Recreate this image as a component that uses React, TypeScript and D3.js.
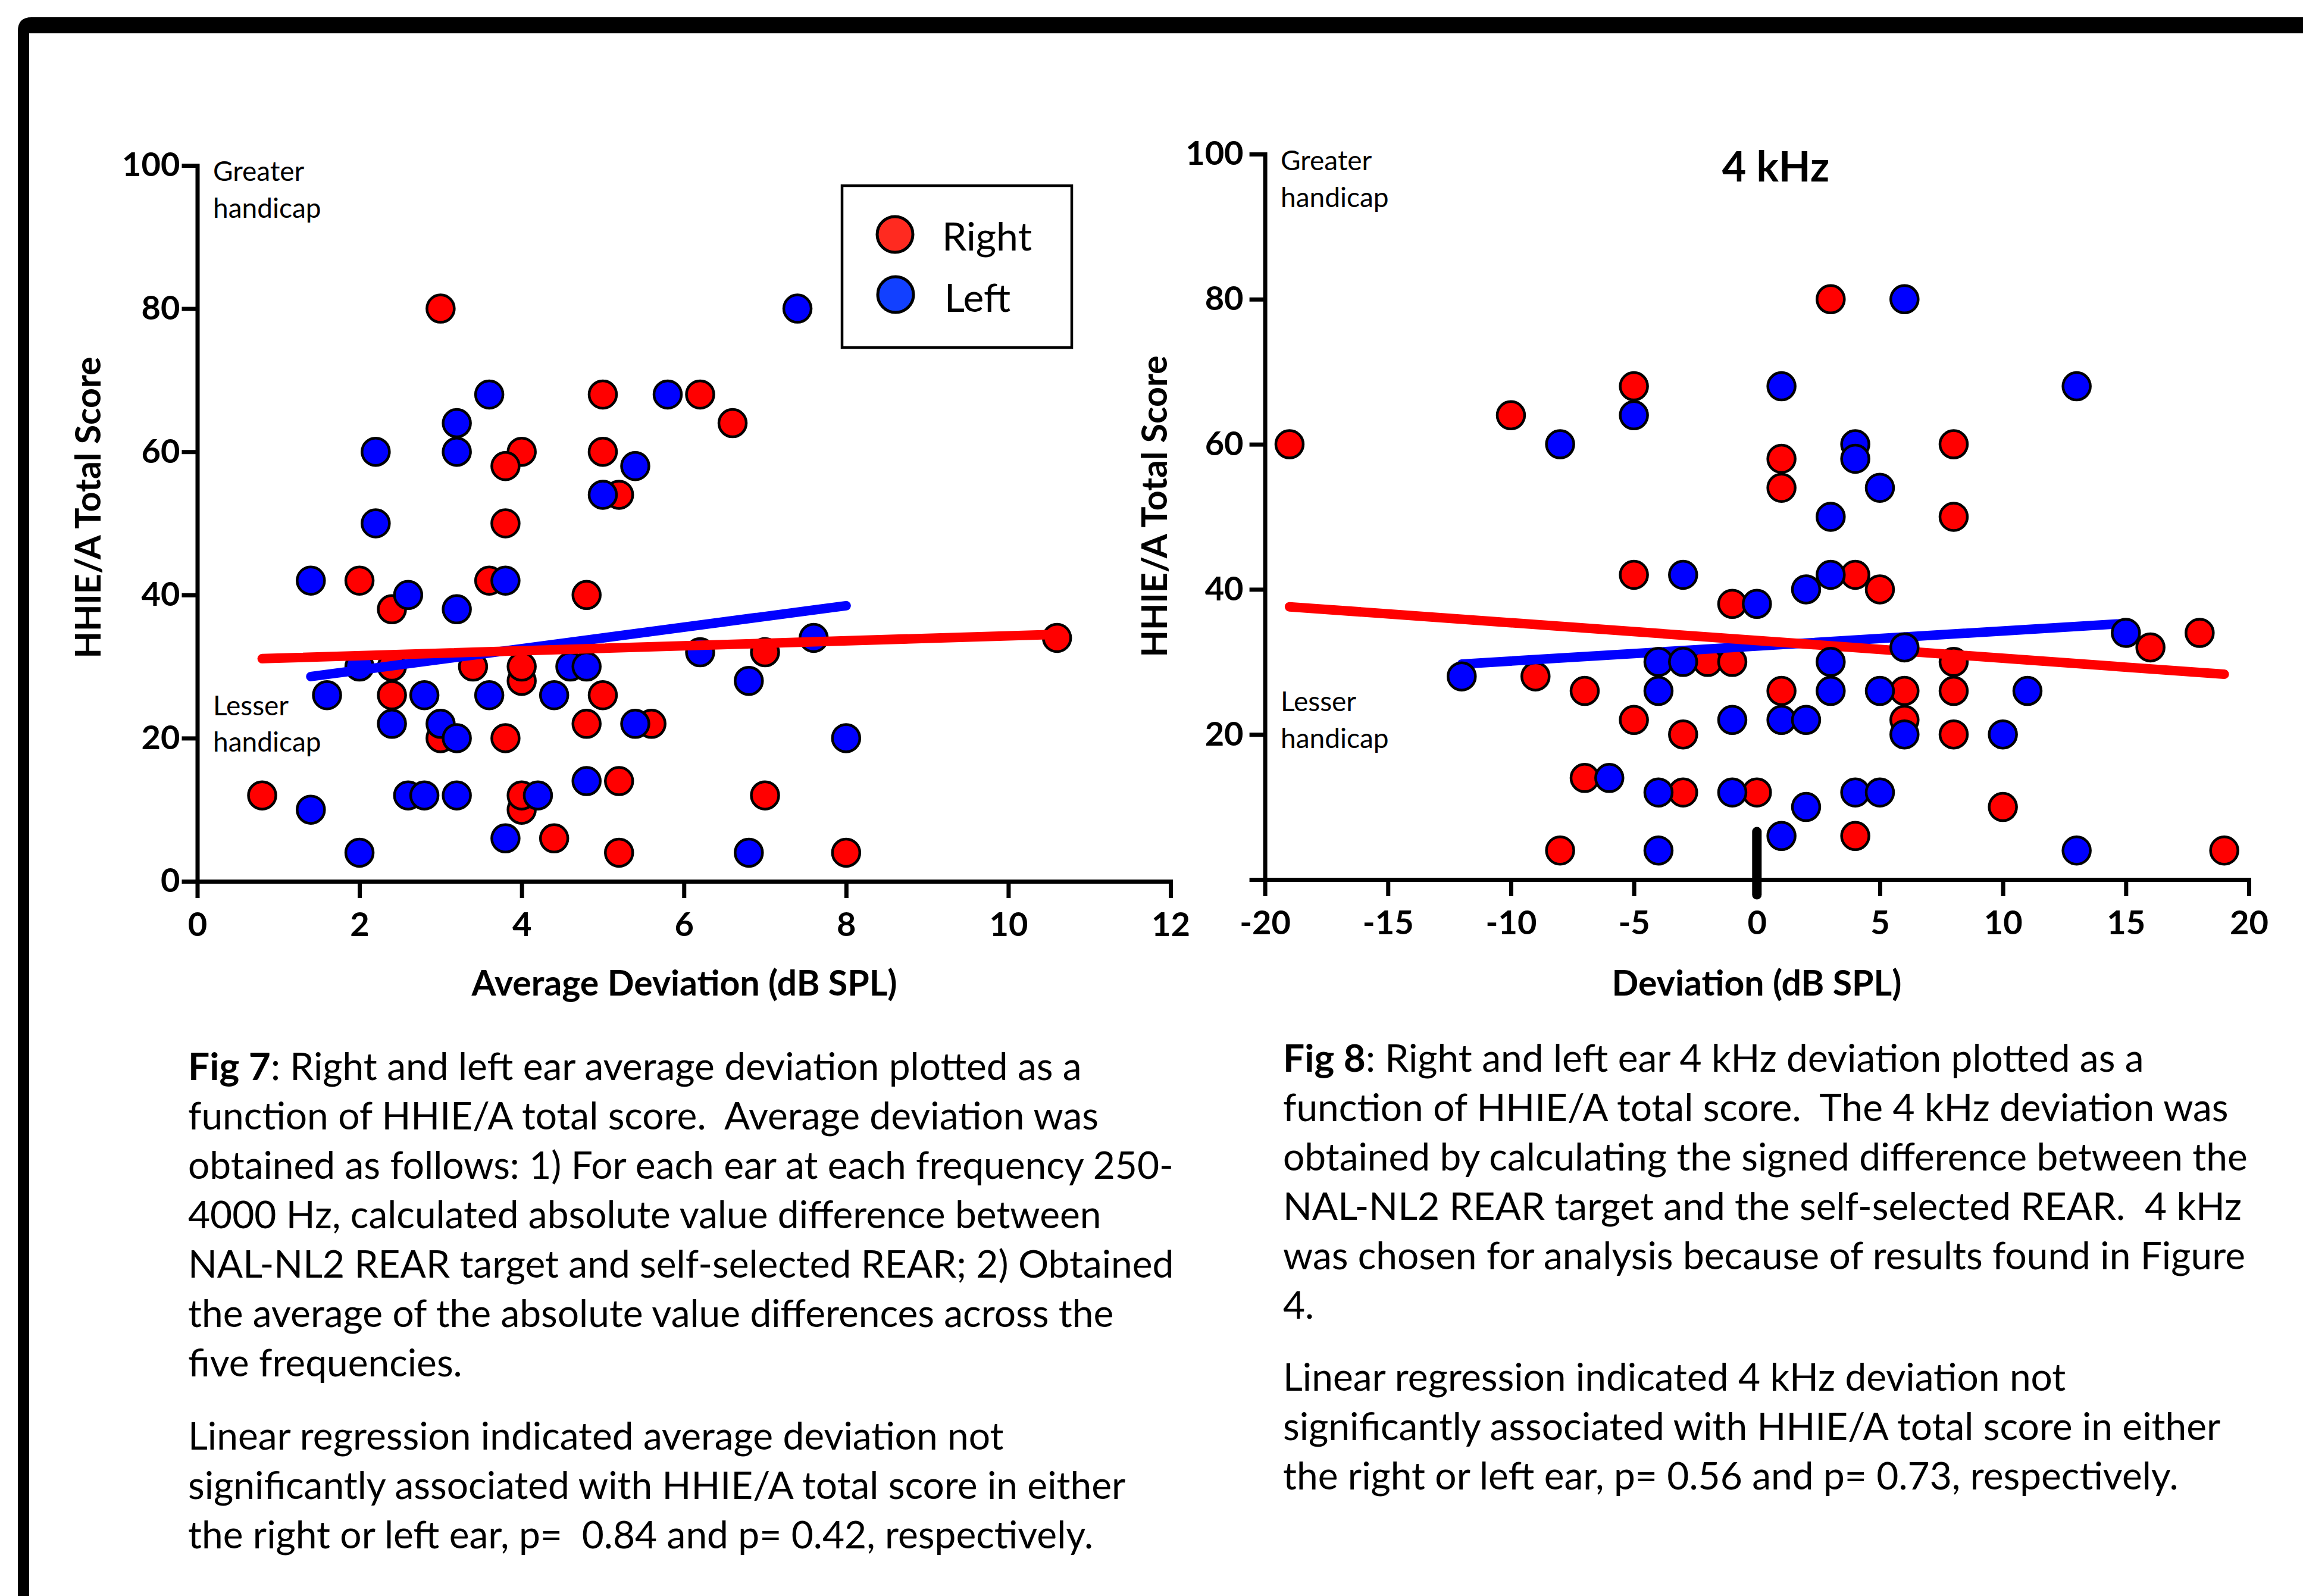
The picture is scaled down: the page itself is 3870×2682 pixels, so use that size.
import React, { useEffect, useRef } from 'react';
import * as d3 from 'd3';

const W = 3870;
const H = 2682;
const FONT = "Lato, 'Open Sans', sans-serif";

// Fig 7: average deviation (dB SPL) vs HHIE/A total score
const fig7Right = [
  [3, 80], [5, 68], [6.2, 68], [6.6, 64], [4, 60], [5, 60], [3.8, 58], [5.2, 54], [3.8, 50],
  [2, 42], [3.6, 42], [4.8, 40], [2.4, 38], [2.4, 30], [3.4, 30], [4, 28], [4, 30], [7, 32],
  [10.6, 34], [2.4, 26], [5, 26], [3, 20], [3.8, 20], [4.8, 22], [5.6, 22], [0.8, 12], [4, 10],
  [4, 12], [5.2, 14], [7, 12], [4.4, 6], [5.2, 4], [8, 4],
];
const fig7Left = [
  [7.4, 80], [3.6, 68], [5.8, 68], [3.2, 64], [2.2, 60], [3.2, 60], [5.4, 58], [5, 54], [2.2, 50],
  [1.4, 42], [3.8, 42], [2.6, 40], [3.2, 38], [7.6, 34], [6.2, 32], [2, 30], [4.6, 30], [4.8, 30],
  [6.8, 28], [1.6, 26], [2.8, 26], [3.6, 26], [4.4, 26], [2.4, 22], [3, 22], [5.4, 22], [3.2, 20],
  [8, 20], [4.8, 14], [2.6, 12], [2.8, 12], [3.2, 12], [4.2, 12], [1.4, 10], [3.8, 6], [2, 4], [6.8, 4],
];
const fig7RightFit = [[0.8, 31.1], [10.6, 34.5]];
const fig7LeftFit = [[1.4, 28.6], [8.0, 38.5]];
const fig7XTicks = [0, 2, 4, 6, 8, 10, 12];

// Fig 8: 4 kHz deviation (dB SPL) vs HHIE/A total score
const fig8Right = [
  [-19, 60], [-10, 64], [-5, 68], [1, 58], [1, 54], [3, 80], [8, 60], [8, 50], [-5, 42], [4, 42],
  [5, 40], [-1, 38], [16, 32], [18, 34], [-9, 28], [-2, 30], [-1, 30], [8, 30], [-7, 26], [1, 26],
  [6, 26], [8, 26], [-5, 22], [6, 22], [-3, 20], [8, 20], [-7, 14], [-3, 12], [0, 12], [10, 10],
  [4, 6], [-8, 4], [19, 4],
];
const fig8Left = [
  [6, 80], [1, 68], [13, 68], [-5, 64], [-8, 60], [4, 60], [4, 58], [5, 54], [3, 50], [-3, 42],
  [3, 42], [2, 40], [0, 38], [15, 34], [6, 32], [-4, 30], [-3, 30], [3, 30], [-12, 28], [-4, 26],
  [3, 26], [5, 26], [11, 26], [-1, 22], [1, 22], [2, 22], [6, 20], [10, 20], [-6, 14], [-4, 12],
  [-1, 12], [4, 12], [5, 12], [2, 10], [1, 6], [-4, 4], [13, 4],
];
const fig8RightFit = [[-19, 37.6], [19, 28.3]];
const fig8LeftFit = [[-12, 29.7], [15, 35.3]];
const fig8ZeroMark = [[0, 6.6], [0, -2.1]];
const fig8XTicks = [-20, -15, -10, -5, 0, 5, 10, 15, 20];

const yTicks = [0, 20, 40, 60, 80, 100];

const fig7Caption = [
  'Right and left ear average deviation plotted as a',
  'function of HHIE/A total score.  Average deviation was',
  'obtained as follows: 1) For each ear at each frequency 250-',
  '4000 Hz, calculated absolute value difference between',
  'NAL-NL2 REAR target and self-selected REAR; 2) Obtained',
  'the average of the absolute value differences across the',
  'five frequencies.',
];
const fig7Result = [
  'Linear regression indicated average deviation not',
  'significantly associated with HHIE/A total score in either',
  'the right or left ear, p=  0.84 and p= 0.42, respectively.',
];
const fig8Caption = [
  'Right and left ear 4 kHz deviation plotted as a',
  'function of HHIE/A total score.  The 4 kHz deviation was',
  'obtained by calculating the signed difference between the',
  'NAL-NL2 REAR target and the self-selected REAR.  4 kHz',
  'was chosen for analysis because of results found in Figure',
  '4.',
];
const fig8Result = [
  'Linear regression indicated 4 kHz deviation not',
  'significantly associated with HHIE/A total score in either',
  'the right or left ear, p= 0.56 and p= 0.73, respectively.',
];

const RED = '#ff0000';
const BLUE = '#0000ff';

function drawDots(g: any, x: any, y: any, data: number[][], fill: string) {
  g.append('g')
    .selectAll('circle')
    .data(data)
    .enter()
    .append('circle')
    .attr('cx', (d: number[]) => x(d[0]))
    .attr('cy', (d: number[]) => y(d[1]))
    .attr('r', 23)
    .attr('fill', fill)
    .attr('stroke', '#000')
    .attr('stroke-width', 4.5);
}

function drawFit(g: any, x: any, y: any, data: number[][], color: string, width = 16) {
  const line = d3.line<number[]>().x((d) => x(d[0])).y((d) => y(d[1]));
  g.append('path')
    .attr('d', line(data))
    .attr('fill', 'none')
    .attr('stroke', color)
    .attr('stroke-width', width)
    .attr('stroke-linecap', 'round');
}

function drawAxes(g: any, x: any, y: any, xTicks: number[], yPad: number, hideZero: boolean) {
  const yAxis = d3.axisLeft(y)
    .tickValues(yTicks)
    .tickSizeInner(26)
    .tickSizeOuter(0)
    .tickPadding(yPad)
    .tickFormat((d: any) => (hideZero && d === 0 ? '' : String(d)));
  const xAxis = d3.axisBottom(x)
    .tickValues(xTicks)
    .tickSizeInner(28)
    .tickSizeOuter(0)
    .tickPadding(24)
    .tickFormat((d: any) => String(d));

  const ya = g.append('g').attr('transform', `translate(${x.range()[0]},0)`).call(yAxis);
  const xa = g.append('g').attr('transform', `translate(0,${y.range()[0]})`).call(xAxis);

  [ya, xa].forEach((a) => {
    a.select('.domain').attr('stroke', '#000').attr('stroke-width', 7).attr('stroke-linecap', 'square');
    a.selectAll('.tick line').attr('stroke', '#000').attr('stroke-width', 7);
    a.selectAll('.tick text')
      .attr('fill', '#000')
      .style('font-family', FONT)
      .style('font-weight', 700)
      .style('font-size', '56px');
  });
}

function addText(g: any, txt: string, x: number, y: number, size: number, weight = 400, anchor = 'start') {
  return g.append('text')
    .attr('x', x)
    .attr('y', y)
    .attr('text-anchor', anchor)
    .style('font-family', FONT)
    .style('font-size', size + 'px')
    .style('font-weight', weight)
    .attr('fill', '#000')
    .text(txt);
}

function drawCaption(g: any, label: string, lines: string[], result: string[], x0: number, y0: number, y1: number) {
  const lh = 83;
  const fs = '64px';
  lines.forEach((ln, i) => {
    const t = g.append('text')
      .attr('x', x0)
      .attr('y', y0 + i * lh)
      .style('font-family', FONT)
      .style('font-size', fs)
      .style('white-space', 'pre')
      .attr('fill', '#000');
    if (i === 0) {
      t.append('tspan').style('font-weight', 700).text(label);
      t.append('tspan').text(': ' + ln);
    } else {
      t.text(ln);
    }
  });
  result.forEach((ln, i) => {
    g.append('text')
      .attr('x', x0)
      .attr('y', y1 + i * lh)
      .style('font-family', FONT)
      .style('font-size', fs)
      .style('white-space', 'pre')
      .attr('fill', '#000')
      .text(ln);
  });
}

export default function App() {
  const ref = useRef<SVGSVGElement>(null);

  useEffect(() => {
    document.body.style.margin = '0';
    const svg = d3.select(ref.current);
    svg.selectAll('*').remove();

    svg.append('rect').attr('width', W).attr('height', H).attr('fill', '#fff');

    // page frame (top band and left bar)
    svg.append('path')
      .attr('d', 'M30,2682 V52 Q30,29 53,29 H3870 V56 H49 V2682 Z')
      .attr('fill', '#000');

    // ---------- Fig 7 ----------
    const x7 = d3.scaleLinear().domain([0, 12]).range([331.5, 1967]);
    const y7 = d3.scaleLinear().domain([0, 100]).range([1481, 278]);
    const g7 = svg.append('g');
    drawAxes(g7, x7, y7, fig7XTicks, 3, false);
    drawDots(g7, x7, y7, fig7Right, RED);
    drawDots(g7, x7, y7, fig7Left, BLUE);
    drawFit(g7, x7, y7, fig7LeftFit, BLUE);
    drawFit(g7, x7, y7, fig7RightFit, RED);

    addText(g7, 'Greater', 358, 304, 46);
    addText(g7, 'handicap', 358, 366, 46);
    addText(g7, 'Lesser', 358, 1202, 46);
    addText(g7, 'handicap', 358, 1263, 46);

    addText(g7, 'Average Deviation (dB SPL)', 1150, 1673, 59, 700, 'middle');
    addText(g7, 'HHIE/A Total Score', 0, 0, 59, 700, 'middle')
      .attr('x', null).attr('y', null)
      .attr('transform', 'translate(169,853) rotate(-90)');

    // legend
    const lg = g7.append('g');
    lg.append('rect').attr('x', 1415).attr('y', 312).attr('width', 386).attr('height', 272)
      .attr('fill', '#fff').attr('stroke', '#000').attr('stroke-width', 4.5);
    lg.append('circle').attr('cx', 1504).attr('cy', 394).attr('r', 30)
      .attr('fill', '#ff2a20').attr('stroke', '#000').attr('stroke-width', 5);
    lg.append('circle').attr('cx', 1505).attr('cy', 495).attr('r', 30)
      .attr('fill', '#1240ff').attr('stroke', '#000').attr('stroke-width', 5);
    addText(lg, 'Right', 1583, 421, 66);
    addText(lg, 'Left', 1587, 524, 66);

    // ---------- Fig 8 ----------
    const x8 = d3.scaleLinear().domain([-20, 20]).range([2125.6, 3779]);
    const y8 = d3.scaleLinear().domain([0, 100]).range([1478, 259]);
    const g8 = svg.append('g');
    drawAxes(g8, x8, y8, fig8XTicks, 10, true);
    drawFit(g8, x8, y8, fig8ZeroMark, '#000');
    drawDots(g8, x8, y8, fig8Right, RED);
    drawFit(g8, x8, y8, fig8LeftFit, BLUE);
    drawFit(g8, x8, y8, fig8RightFit, RED);
    drawDots(g8, x8, y8, fig8Left, BLUE);

    addText(g8, 'Greater', 2152, 286, 46);
    addText(g8, 'handicap', 2152, 348, 46);
    addText(g8, 'Lesser', 2152, 1195, 46);
    addText(g8, 'handicap', 2152, 1257, 46);
    addText(g8, '4 kHz', 2984, 305, 70, 700, 'middle');

    addText(g8, 'Deviation (dB SPL)', 2952, 1673, 59, 700, 'middle');
    addText(g8, 'HHIE/A Total Score', 0, 0, 59, 700, 'middle')
      .attr('x', null).attr('y', null)
      .attr('transform', 'translate(1961,851) rotate(-90)');

    // captions
    drawCaption(svg, 'Fig 7', fig7Caption, fig7Result, 316, 1815, 2436);
    drawCaption(svg, 'Fig 8', fig8Caption, fig8Result, 2156, 1801, 2337);
  }, []);

  return <svg ref={ref} width={W} height={H} style={{ display: 'block' }} />;
}
